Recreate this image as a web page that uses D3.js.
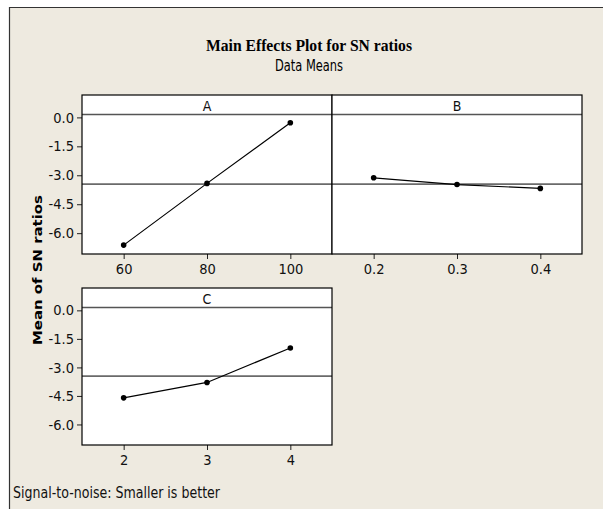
<!DOCTYPE html>
<html>
<head>
<meta charset="utf-8">
<script src="https://cdn.jsdelivr.net/npm/d3@7"></script>
<style>
  body { margin: 0; background: #ffffff; }
  .tick text { font-family: "Liberation Sans Narrow", "DejaVu Sans Condensed", "Liberation Sans", sans-serif; font-size: 14.5px; fill: #111; }
  .strip text { font-family: "Liberation Sans Narrow", "DejaVu Sans Condensed", sans-serif; font-size: 14px; fill: #111; }
</style>
</head>
<body>
<div id="chart"></div>
<script>
// factor levels and mean SN ratio at each level
var levelsA = [60, 80, 100];
var snA = [-6.62, -3.42, -0.28];
var levelsB = [0.2, 0.3, 0.4];
var snB = [-3.13, -3.48, -3.68];
var levelsC = [2, 3, 4];
var snC = [-4.6, -3.79, -1.98];
var yTicks = [0, -1.5, -3, -4.5, -6];
var overallMean = -3.46;

// size of the page
var W = 603, H = 509;

var svg = d3.select("#chart")
    .append("svg")
    .attr("width", W)
    .attr("height", H);

// beige plot background with a thin frame on top / left
svg.append("rect")
    .attr("x", 9).attr("y", 7)
    .attr("width", W - 9).attr("height", H - 7)
    .attr("fill", "#eeeae0");
svg.append("path")
    .attr("d", "M9.5," + H + "V7.5H" + W)
    .attr("fill", "none")
    .attr("stroke", "#333")
    .attr("stroke-width", 1.2);

// titles
svg.append("text")
    .attr("x", 309).attr("y", 50.5)
    .attr("text-anchor", "middle")
    .attr("font-family", "Liberation Serif, serif")
    .attr("font-weight", "bold")
    .attr("font-size", 16)
    .attr("textLength", 206)
    .attr("lengthAdjust", "spacingAndGlyphs")
    .text("Main Effects Plot for SN ratios");

svg.append("text")
    .attr("x", 309).attr("y", 71)
    .attr("text-anchor", "middle")
    .attr("font-family", "Liberation Sans Narrow, DejaVu Sans Condensed, sans-serif")
    .attr("font-size", 15)
    .attr("textLength", 68)
    .attr("lengthAdjust", "spacingAndGlyphs")
    .text("Data Means");

// y axis title
svg.append("text")
    .attr("transform", "translate(42,270) rotate(-90)")
    .attr("text-anchor", "middle")
    .attr("font-family", "DejaVu Sans, Verdana, sans-serif")
    .attr("font-weight", "bold")
    .attr("font-size", 13)
    .attr("textLength", 150)
    .attr("lengthAdjust", "spacingAndGlyphs")
    .text("Mean of SN ratios");

// footnote
svg.append("text")
    .attr("x", 13).attr("y", 497.5)
    .attr("font-family", "Liberation Sans Narrow, DejaVu Sans Condensed, sans-serif")
    .attr("font-size", 15.5)
    .attr("textLength", 207)
    .attr("lengthAdjust", "spacingAndGlyphs")
    .attr("fill", "#111")
    .text("Signal-to-noise: Smaller is better");

// one panel per factor
var panels = [
  {name: "A", levels: levelsA, sn: snA, x0: 82, top: 95, stripB: 114.5, bottom: 254, dom: [50, 110], yAxis: true, fmt: d3.format("d")},
  {name: "B", levels: levelsB, sn: snB, x0: 332, top: 95, stripB: 114.5, bottom: 254, dom: [0.15, 0.45], yAxis: false, fmt: d3.format(".1f")},
  {name: "C", levels: levelsC, sn: snC, x0: 82, top: 288, stripB: 307.5, bottom: 445, dom: [1.5, 4.5], yAxis: true, fmt: d3.format("d")}
];
var pw = 250;

panels.forEach(function(p) {

  var xScale = d3.scaleLinear()
      .domain(p.dom)
      .range([p.x0, p.x0 + pw]);

  var yScale = d3.scaleLinear()
      .domain([-7.08, 0.15])
      .range([p.bottom, p.stripB]);

  // white panel
  svg.append("rect")
      .attr("x", p.x0).attr("y", p.top)
      .attr("width", pw).attr("height", p.bottom - p.top)
      .attr("fill", "#fff");

  // reference line at the overall mean
  svg.append("line")
      .attr("x1", p.x0).attr("x2", p.x0 + pw)
      .attr("y1", yScale(overallMean)).attr("y2", yScale(overallMean))
      .attr("stroke", "#6a6a6a")
      .attr("stroke-width", 1.6);

  // axes
  var xAxis = svg.append("g")
      .attr("transform", "translate(0," + p.bottom + ")")
      .call(d3.axisBottom(xScale).tickValues(p.levels).tickFormat(p.fmt).tickSize(5).tickPadding(5));
  xAxis.select(".domain").remove();

  if (p.yAxis) {
    var yAxis = svg.append("g")
        .attr("transform", "translate(" + p.x0 + ",0)")
        .call(d3.axisLeft(yScale).tickValues(yTicks).tickFormat(d3.format(".1f")).tickSize(5).tickPadding(3));
    yAxis.select(".domain").remove();
  }
  svg.selectAll(".tick line").attr("stroke", "#222");
  svg.selectAll(".tick text").text(function() { return this.textContent.replace("\u2212", "-"); });

  // strip with factor name
  var strip = svg.append("g").classed("strip", true);
  strip.append("line")
      .attr("x1", p.x0).attr("x2", p.x0 + pw)
      .attr("y1", p.stripB).attr("y2", p.stripB)
      .attr("stroke", "#555")
      .attr("stroke-width", 1.6);
  strip.append("text")
      .attr("x", p.x0 + pw / 2)
      .attr("y", p.top + 15.5)
      .attr("text-anchor", "middle")
      .text(p.name);

  // frame
  svg.append("rect")
      .attr("x", p.x0).attr("y", p.top)
      .attr("width", pw).attr("height", p.bottom - p.top)
      .attr("fill", "none")
      .attr("stroke", "#000")
      .attr("stroke-width", 1.2);

  // main effect line and points
  var pts = p.levels.map(function(d, i) { return {x: d, y: p.sn[i]}; });
  svg.append("path")
      .datum(pts)
      .attr("fill", "none")
      .attr("stroke", "#000")
      .attr("stroke-width", 1.2)
      .attr("d", d3.line().x(d => xScale(d.x)).y(d => yScale(d.y)));

  svg.append("g")
    .selectAll("circle")
    .data(pts)
    .enter()
    .append("circle")
      .attr("cx", d => xScale(d.x))
      .attr("cy", d => yScale(d.y))
      .attr("r", 2.8)
      .attr("fill", "#000");
});
</script>
</body>
</html>
